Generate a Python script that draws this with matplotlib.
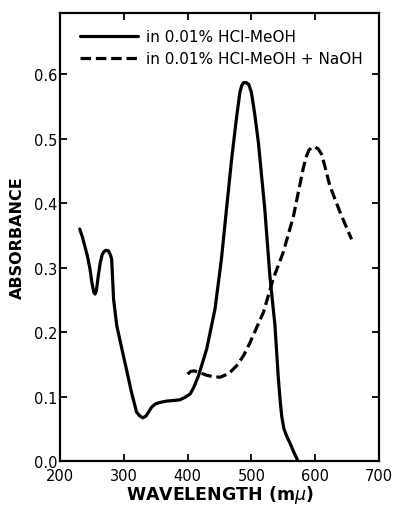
import matplotlib
matplotlib.use("Agg")
import matplotlib.pyplot as plt

# solid curve: in 0.01% HCl-MeOH
acid_wl = [231, 235, 239, 243, 247, 250, 253, 255, 257, 260, 263, 266, 269, 272,
           276, 279, 281, 282.5, 284, 289, 297, 304, 312, 320, 325, 330, 335, 340,
           344, 350, 357, 367, 378, 388, 396, 404, 410, 417, 430, 443, 453, 461,
           469, 477, 482, 485, 488, 492, 496, 500, 505, 511, 521, 529, 537, 542,
           545, 547.5, 551, 556, 560, 566, 572]
acid_abs = [0.360, 0.348, 0.333, 0.318, 0.298, 0.277, 0.262, 0.259, 0.264, 0.287,
            0.307, 0.320, 0.325, 0.327, 0.326, 0.320, 0.313, 0.282, 0.251, 0.210,
            0.174, 0.143, 0.107, 0.076, 0.070, 0.067, 0.070, 0.078, 0.084, 0.089,
            0.091, 0.093, 0.094, 0.095, 0.099, 0.104, 0.115, 0.132, 0.174, 0.236,
            0.313, 0.391, 0.468, 0.535, 0.572, 0.583, 0.587, 0.587, 0.584, 0.572,
            0.540, 0.494, 0.391, 0.287, 0.210, 0.132, 0.095, 0.070, 0.050, 0.037,
            0.029, 0.015, 0.002]

# dashed curve: in 0.01% HCl-MeOH + NaOH
base_wl = [400, 405, 410, 420, 430, 440, 451, 465, 477, 488, 498, 519, 534, 550,
           566, 581, 586, 590, 595, 600, 605, 610, 615, 623, 639, 657]
base_abs = [0.135, 0.139, 0.140, 0.137, 0.133, 0.131, 0.130, 0.136, 0.148, 0.164,
            0.184, 0.231, 0.282, 0.324, 0.380, 0.453, 0.472, 0.482, 0.487, 0.487,
            0.484, 0.476, 0.458, 0.427, 0.386, 0.344]

x_ticks = [200, 300, 400, 500, 600, 700]
y_ticks = [0.0, 0.1, 0.2, 0.3, 0.4, 0.5, 0.6]

fig = plt.figure(figsize=(3.96, 5.10), dpi=100)
ax = fig.add_axes([0.1515, 0.094, 0.8055, 0.8785])

ax.plot(acid_wl, acid_abs, color="black", lw=2.3, solid_capstyle="round",
        solid_joinstyle="round", label="in 0.01% HCl-MeOH")
ax.plot(base_wl, base_abs, color="black", lw=2.3, dashes=(3.3, 1.5),
        label="in 0.01% HCl-MeOH + NaOH")

ax.set_xlim(200, 700)
ax.set_ylim(0, 0.695)
ax.set_xticks(x_ticks)
ax.set_yticks(y_ticks)
ax.set_yticklabels([f"{v:.1f}" for v in y_ticks])
ax.tick_params(direction="in", top=True, right=True, length=5, width=1.3,
               labelsize=10.5, pad=2)
ax.tick_params(axis="x", pad=5)
for s in ax.spines.values():
    s.set_linewidth(1.6)

ax.set_xlabel("WAVELENGTH (m$\\mu$)", fontsize=12.5, fontweight="bold", labelpad=0)
ax.set_ylabel("ABSORBANCE", fontsize=11.5, fontweight="bold", labelpad=6)

ax.legend(loc="upper left", bbox_to_anchor=(0.02, 0.995), frameon=False,
          handlelength=3.8, handletextpad=0.5, fontsize=11, labelspacing=0.45)

fig.savefig("out.png", dpi=100)
